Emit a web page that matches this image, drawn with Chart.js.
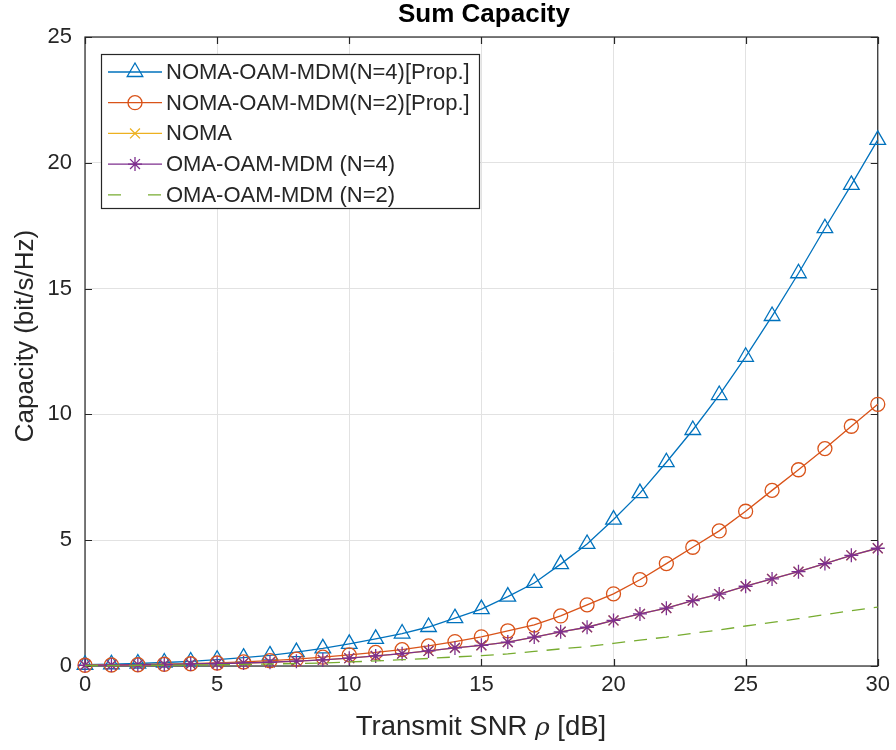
<!DOCTYPE html>
<html><head><meta charset="utf-8">
<script src="https://cdn.jsdelivr.net/npm/chart.js@4.4.1/dist/chart.umd.min.js"></script>
<style>html,body{margin:0;padding:0;background:#fff;overflow:hidden}</style>
</head><body>
<canvas id="c" width="896" height="750" style="width:896px;height:750px;display:block"></canvas>
<script>
const snrDb = [0,1,2,3,4,5,6,7,8,9,10,11,12,13,14,15,16,17,18,19,20,21,22,23,24,25,26,27,28,29,30];
const nomaOamMdmN4 = [0.05,0.07,0.10,0.14,0.18,0.25,0.33,0.42,0.55,0.70,0.88,1.08,1.29,1.55,1.90,2.26,2.76,3.30,4.05,4.85,5.82,6.87,8.10,9.38,10.77,12.29,13.91,15.61,17.40,19.12,20.91];
const nomaOamMdmN2 = [0.03,0.04,0.05,0.07,0.09,0.12,0.16,0.21,0.27,0.35,0.44,0.54,0.65,0.80,0.97,1.16,1.40,1.63,1.99,2.43,2.87,3.43,4.07,4.72,5.37,6.15,6.98,7.80,8.64,9.53,10.40];
const noma = [0.03,0.04,0.05,0.06,0.08,0.10,0.12,0.15,0.19,0.24,0.31,0.40,0.49,0.60,0.72,0.82,0.95,1.15,1.36,1.54,1.81,2.07,2.30,2.60,2.86,3.17,3.46,3.75,4.07,4.40,4.68];
const omaOamMdmN4 = [0.03,0.04,0.05,0.06,0.08,0.10,0.12,0.15,0.19,0.24,0.31,0.40,0.49,0.60,0.72,0.82,0.95,1.15,1.36,1.54,1.81,2.07,2.30,2.60,2.86,3.17,3.46,3.75,4.07,4.40,4.68];
const omaOamMdmN2 = [0.02,0.02,0.03,0.03,0.04,0.05,0.06,0.08,0.10,0.12,0.16,0.20,0.25,0.30,0.36,0.41,0.48,0.58,0.68,0.77,0.90,1.03,1.15,1.30,1.43,1.59,1.73,1.88,2.04,2.20,2.34];
const seriesLabels = ['NOMA-OAM-MDM(N=4)[Prop.]','NOMA-OAM-MDM(N=2)[Prop.]','NOMA','OMA-OAM-MDM (N=4)','OMA-OAM-MDM (N=2)'];
const xTickValues = [0,5,10,15,20,25,30];
const yTickValues = [0,5,10,15,20,25];
const chartTitle = 'Sum Capacity';
const xTitleParts = ['Transmit SNR ', '\u03C1', ' [dB]'];
const yTitle = 'Capacity (bit/s/Hz)';

const FONT = "'Liberation Sans', Arial, Helvetica, sans-serif";
const AX = '#262626';
const colors = ['#0072BD','#D95319','#EDB120','#7E2F8E','#77AC30'];
const styles = ['triangle','circle','crossRot','star',false];
const radii = [9,7,7,7,0];
const dashes = [[],[],[],[],[13,9]];
const seriesValues = [nomaOamMdmN4, nomaOamMdmN2, noma, omaOamMdmN4, omaOamMdmN2];

const datasets = seriesValues.map((vals,i)=>({
  label: seriesLabels[i],
  data: snrDb.map((x,k)=>({x:x,y:vals[k]})),
  borderColor: colors[i],
  backgroundColor: 'rgba(0,0,0,0)',
  borderWidth: 1.3,
  borderDash: dashes[i],
  pointStyle: styles[i],
  pointRadius: radii[i],
  pointBorderWidth: 1.3,
  pointBorderColor: colors[i],
  pointBackgroundColor: 'rgba(0,0,0,0)',
  pointHoverRadius: radii[i],
  tension: 0,
  fill: false,
  clip: false,
  order: 5 - i
}));

const decor = {
  id: 'decor',
  beforeDatasetsDraw(chart){
    const {ctx, chartArea:a, scales:{x,y}} = chart;
    ctx.save();
    ctx.strokeStyle = AX; ctx.lineWidth = 1.2;
    ctx.strokeRect(a.left, a.top, a.right-a.left, a.bottom-a.top);
    const tl = 7;
    ctx.beginPath();
    xTickValues.forEach(v=>{
      const px = Math.round(x.getPixelForValue(v))+0.5;
      ctx.moveTo(px,a.bottom); ctx.lineTo(px,a.bottom-tl);
      ctx.moveTo(px,a.top); ctx.lineTo(px,a.top+tl);
    });
    yTickValues.forEach(v=>{
      const py = Math.round(y.getPixelForValue(v))+0.5;
      ctx.moveTo(a.left,py); ctx.lineTo(a.left+tl,py);
      ctx.moveTo(a.right,py); ctx.lineTo(a.right-tl,py);
    });
    ctx.stroke();
    ctx.restore();
  },
  afterDraw(chart){
    const {ctx, chartArea:a} = chart;
    ctx.save();
    // title
    ctx.fillStyle = '#000';
    ctx.font = 'bold 26px ' + FONT;
    ctx.textAlign = 'center'; ctx.textBaseline = 'alphabetic';
    ctx.fillText(chartTitle, 484, 22);
    // x title with italic rho
    ctx.fillStyle = AX;
    const fN = '27.5px ' + FONT, fI = 'italic 25px "DejaVu Serif", "Liberation Serif", serif';
    ctx.font = fN; const w0 = ctx.measureText(xTitleParts[0]).width;
    ctx.font = fI; const w1 = ctx.measureText(xTitleParts[1]).width;
    ctx.font = fN; const w2 = ctx.measureText(xTitleParts[2]).width;
    let sx = 481 - (w0+w1+w2)/2;
    ctx.textAlign = 'left';
    ctx.font = fN; ctx.fillText(xTitleParts[0], sx, 735);
    ctx.font = fI; ctx.fillText(xTitleParts[1], sx+w0, 735);
    ctx.font = fN; ctx.fillText(xTitleParts[2], sx+w0+w1, 735);
    // y title
    ctx.save();
    ctx.translate(33, 336); ctx.rotate(-Math.PI/2);
    ctx.textAlign = 'center'; ctx.font = '26px ' + FONT;
    ctx.fillText(yTitle, 0, 0);
    ctx.restore();
    // legend
    const L = 101, T = 54, R = 479, B = 208;
    ctx.fillStyle = '#fff'; ctx.fillRect(L,T,R-L,B-T);
    ctx.strokeStyle = AX; ctx.lineWidth = 1.2;
    ctx.strokeRect(L+0.5,T+0.5,R-L,B-T);
    ctx.font = '22px ' + FONT; ctx.textBaseline = 'middle'; ctx.textAlign = 'left';
    seriesLabels.forEach((lab,i)=>{
      const ry = 72 + i*30.7;
      ctx.strokeStyle = colors[i]; ctx.lineWidth = 1.3;
      ctx.setLineDash(dashes[i]);
      ctx.beginPath();
      if (i===4){ ctx.moveTo(108,ry); ctx.lineTo(121,ry); ctx.moveTo(148,ry); ctx.lineTo(162,ry); }
      else { ctx.moveTo(108,ry); ctx.lineTo(162,ry); }
      ctx.stroke(); ctx.setLineDash([]);
      if (styles[i]) {
        ctx.fillStyle = 'rgba(0,0,0,0)';
        Chart.helpers.drawPoint(ctx, {pointStyle: styles[i], radius: radii[i], borderWidth: 1.3, rotation: 0}, 135, ry);
      }
      ctx.fillStyle = AX;
      ctx.fillText(lab, 166, ry+1);
    });
    ctx.restore();
  }
};

new Chart(document.getElementById('c'), {
  type: 'line',
  data: { datasets },
  options: {
    responsive: false,
    animation: false,
    devicePixelRatio: 1,
    layout: { padding: { left: 0, right: 15, top: 37, bottom: 0 } },
    plugins: { legend: { display: false }, tooltip: { enabled: false }, title: { display: false } },
    scales: {
      x: {
        type: 'linear', min: 0, max: 30,
        afterBuildTicks: s => { s.ticks = xTickValues.map(v=>({value:v})); },
        afterFit: s => { s.height = 84; },
        grid: { color: '#e2e2e2', lineWidth: 1, drawTicks: false },
        border: { display: false },
        ticks: { color: AX, font: { family: FONT, size: 22 }, padding: 6, maxRotation: 0 }
      },
      y: {
        type: 'linear', min: 0, max: 25,
        afterBuildTicks: s => { s.ticks = yTickValues.map(v=>({value:v})); },
        afterFit: s => { s.width = 85; },
        grid: { color: '#e2e2e2', lineWidth: 1, drawTicks: false },
        border: { display: false },
        ticks: { color: AX, font: { family: FONT, size: 22 }, padding: 13 }
      }
    }
  },
  plugins: [decor]
});
</script>
</body></html>
